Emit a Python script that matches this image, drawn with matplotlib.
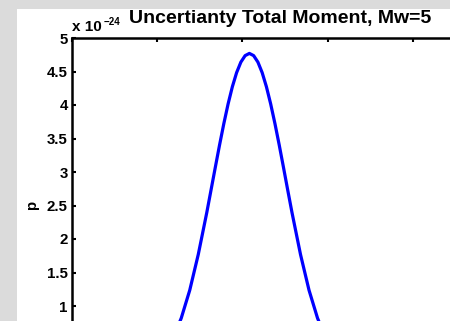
import matplotlib
matplotlib.use("Agg")
import matplotlib.pyplot as plt
from matplotlib.patches import Rectangle

plt.rcParams["font.family"] = ["Liberation Sans", "DejaVu Sans"]
plt.rcParams["font.weight"] = "bold"

# Total seismic moment (units of 1e23 dyne-cm) and probability density (x 1e-24)
moment = [1.764, 1.964, 2.164, 2.364, 2.564, 2.764, 2.964, 3.164, 3.364, 3.464,
          3.564, 3.664, 3.764, 3.864, 3.964, 4.064, 4.164, 4.264, 4.364, 4.464,
          4.564, 4.664, 4.764, 4.864, 4.964, 5.064, 5.164, 5.364, 5.564, 5.764,
          5.964, 6.164, 6.364, 6.564]
density = [0.090, 0.170, 0.303, 0.512, 0.818, 1.236, 1.769, 2.395, 3.070, 3.404,
           3.722, 4.015, 4.272, 4.483, 4.640, 4.737, 4.770, 4.737, 4.640, 4.483,
           4.272, 4.015, 3.722, 3.404, 3.070, 2.730, 2.395, 1.769, 1.236, 0.818,
           0.512, 0.303, 0.170, 0.090]
density_exponent = -24

x_ticks = [0, 2, 4, 6, 8, 10]
y_ticks = [1, 1.5, 2, 2.5, 3, 3.5, 4, 4.5, 5]
title = "Uncertianty Total Moment, Mw=5"

W, H = 450, 321
fig = plt.figure(figsize=(W / 100, H / 100), dpi=100, facecolor="#dbdbdb")
fig.patches.append(Rectangle((17 / W, 0), 1, 1 - 9 / H, transform=fig.transFigure,
                             facecolor="white", edgecolor="none", zorder=-5))

left_px, top_px, right_px, zero_px = 72, 38, 498, 373
ax = fig.add_axes([left_px / W, 1 - zero_px / H,
                   (right_px - left_px) / W, (zero_px - top_px) / H])
ax.set_zorder(2)
ax.plot(moment, density, color="#0000ff", lw=2.3, solid_joinstyle="round",
        solid_capstyle="round")

ax.set_xlim(0, 10)
ax.set_ylim(0, 5)
ax.set_xticks(x_ticks)
ax.set_yticks(y_ticks)
ax.set_yticklabels([f"{v:g}" for v in y_ticks])
ax.tick_params(direction="in", length=3.2, width=1.5, top=True, right=True,
               labelsize=10.8, pad=3, colors="black")
ax.tick_params(axis="x", labelbottom=False)
for sp in ax.spines.values():
    sp.set_linewidth(1.8)
    sp.set_color("black")

ax.set_ylabel("p", fontsize=10.8, fontweight="bold", labelpad=2)
ax.yaxis.set_label_coords(-(left_px - 39) / (right_px - left_px), 0.5)

ax.set_title(title, fontsize=14, fontweight="bold", pad=11)
ax.title.set_x((280 - left_px) / (right_px - left_px))

# multiplier for the density axis
ax.annotate("x 10", xy=(0, 1), xycoords="axes fraction", xytext=(0, 4),
            textcoords="offset pixels", ha="left", va="bottom",
            fontsize=11, fontweight="bold")
ax.annotate(f"\u2212{abs(density_exponent)}", xy=(0, 1), xycoords="axes fraction",
            xytext=(32, 11), textcoords="offset pixels", ha="left", va="bottom",
            fontsize=7, fontweight="bold")

fig.savefig("out.png", dpi=100, facecolor=fig.get_facecolor())
